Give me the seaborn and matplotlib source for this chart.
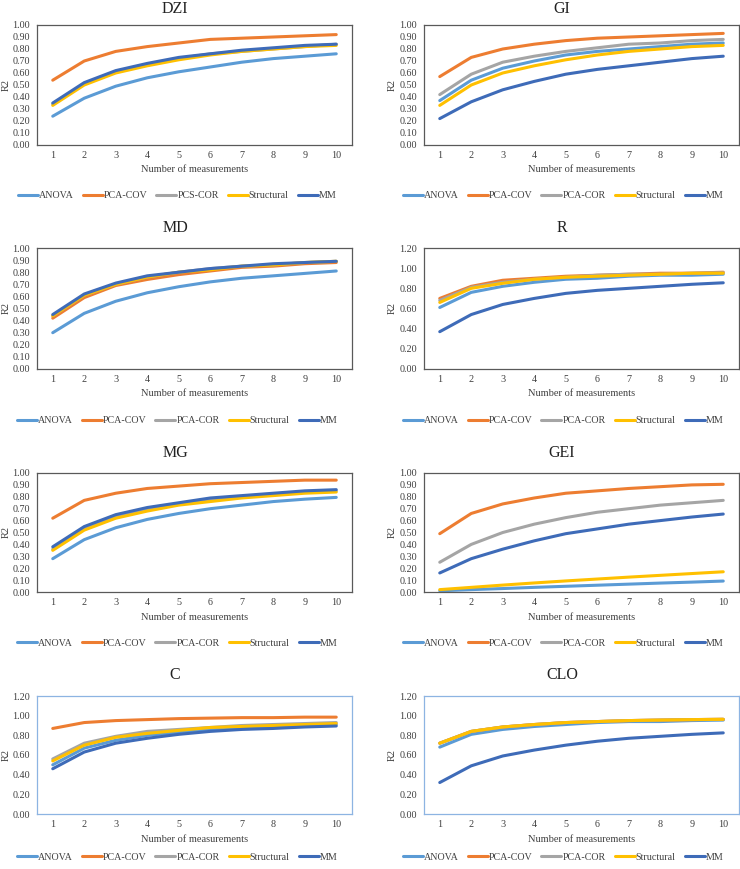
import numpy as np
import pandas as pd
import matplotlib
matplotlib.use("Agg")
import matplotlib.pyplot as plt
from matplotlib.lines import Line2D
import seaborn as sns

sns.set_theme(style="white")
plt.rcParams['font.family'] = ['Liberation Serif', 'DejaVu Serif']

# x axis: number of measurements
measurements = [1, 2, 3, 4, 5, 6, 7, 8, 9, 10]
methods = ["ANOVA", "PCA-COV", "PCA-COR", "Structural", "MM"]
colors = ["#5B9BD5", "#ED7D31", "#A5A5A5", "#FFC000", "#3E6BB8"]

# R2 values (order: ANOVA, PCA-COV, PCA-COR, Structural, MM)
dzi = {
    "ANOVA":      [0.24, 0.39, 0.49, 0.56, 0.61, 0.65, 0.69, 0.72, 0.74, 0.76],
    "PCA-COV":    [0.54, 0.70, 0.78, 0.82, 0.85, 0.88, 0.89, 0.90, 0.91, 0.92],
    "PCA-COR":    [0.34, 0.51, 0.61, 0.67, 0.72, 0.76, 0.78, 0.80, 0.82, 0.84],
    "Structural": [0.33, 0.50, 0.60, 0.66, 0.71, 0.75, 0.78, 0.80, 0.82, 0.83],
    "MM":         [0.35, 0.52, 0.62, 0.68, 0.73, 0.76, 0.79, 0.81, 0.83, 0.84],
}
gi = {
    "ANOVA":      [0.37, 0.54, 0.64, 0.70, 0.75, 0.78, 0.80, 0.82, 0.84, 0.85],
    "PCA-COV":    [0.57, 0.73, 0.80, 0.84, 0.87, 0.89, 0.90, 0.91, 0.92, 0.93],
    "PCA-COR":    [0.42, 0.59, 0.69, 0.74, 0.78, 0.81, 0.84, 0.85, 0.87, 0.88],
    "Structural": [0.33, 0.50, 0.60, 0.66, 0.71, 0.75, 0.78, 0.80, 0.82, 0.83],
    "MM":         [0.22, 0.36, 0.46, 0.53, 0.59, 0.63, 0.66, 0.69, 0.72, 0.74],
}
md = {
    "ANOVA":      [0.30, 0.46, 0.56, 0.63, 0.68, 0.72, 0.75, 0.77, 0.79, 0.81],
    "PCA-COV":    [0.42, 0.59, 0.69, 0.74, 0.78, 0.81, 0.84, 0.85, 0.87, 0.88],
    "PCA-COR":    [0.44, 0.61, 0.70, 0.76, 0.80, 0.83, 0.85, 0.86, 0.88, 0.89],
    "Structural": [0.44, 0.61, 0.70, 0.76, 0.80, 0.82, 0.85, 0.86, 0.88, 0.89],
    "MM":         [0.45, 0.62, 0.71, 0.77, 0.80, 0.83, 0.85, 0.87, 0.88, 0.89],
}
r = {
    "ANOVA":      [0.61, 0.76, 0.82, 0.86, 0.89, 0.90, 0.92, 0.93, 0.93, 0.94],
    "PCA-COV":    [0.70, 0.82, 0.88, 0.90, 0.92, 0.93, 0.94, 0.95, 0.95, 0.96],
    "PCA-COR":    [0.68, 0.81, 0.86, 0.89, 0.91, 0.93, 0.94, 0.94, 0.95, 0.955],
    "Structural": [0.66, 0.80, 0.85, 0.89, 0.91, 0.92, 0.93, 0.94, 0.95, 0.95],
    "MM":         [0.37, 0.54, 0.64, 0.70, 0.75, 0.78, 0.80, 0.82, 0.84, 0.855],
}
mg = {
    "ANOVA":      [0.28, 0.44, 0.54, 0.61, 0.66, 0.70, 0.73, 0.76, 0.78, 0.795],
    "PCA-COV":    [0.62, 0.77, 0.83, 0.87, 0.89, 0.91, 0.92, 0.93, 0.94, 0.94],
    "PCA-COR":    [0.36, 0.53, 0.63, 0.69, 0.74, 0.77, 0.80, 0.82, 0.84, 0.85],
    "Structural": [0.35, 0.52, 0.62, 0.68, 0.73, 0.76, 0.79, 0.81, 0.83, 0.84],
    "MM":         [0.38, 0.55, 0.65, 0.71, 0.75, 0.79, 0.81, 0.83, 0.85, 0.86],
}
gei = {
    "ANOVA":      [0.010, 0.020, 0.029, 0.039, 0.048, 0.057, 0.066, 0.075, 0.083, 0.092],
    "PCA-COV":    [0.49, 0.66, 0.74, 0.79, 0.83, 0.85, 0.87, 0.885, 0.90, 0.905],
    "PCA-COR":    [0.25, 0.40, 0.50, 0.57, 0.625, 0.67, 0.70, 0.73, 0.75, 0.77],
    "Structural": [0.020, 0.039, 0.058, 0.076, 0.093, 0.109, 0.125, 0.140, 0.155, 0.170],
    "MM":         [0.16, 0.28, 0.36, 0.43, 0.49, 0.53, 0.57, 0.60, 0.63, 0.655],
}
c = {
    "ANOVA":      [0.50, 0.67, 0.75, 0.80, 0.83, 0.86, 0.875, 0.89, 0.90, 0.91],
    "PCA-COV":    [0.87, 0.93, 0.95, 0.96, 0.97, 0.975, 0.98, 0.98, 0.985, 0.985],
    "PCA-COR":    [0.56, 0.72, 0.79, 0.84, 0.86, 0.88, 0.90, 0.91, 0.92, 0.93],
    "Structural": [0.54, 0.70, 0.78, 0.82, 0.85, 0.88, 0.89, 0.90, 0.91, 0.92],
    "MM":         [0.46, 0.63, 0.72, 0.77, 0.81, 0.84, 0.86, 0.87, 0.885, 0.895],
}
clo = {
    "ANOVA":      [0.68, 0.81, 0.86, 0.89, 0.91, 0.93, 0.94, 0.94, 0.95, 0.955],
    "PCA-COV":    [0.72, 0.84, 0.885, 0.91, 0.93, 0.94, 0.95, 0.955, 0.96, 0.963],
    "PCA-COR":    [0.72, 0.84, 0.885, 0.91, 0.93, 0.94, 0.95, 0.955, 0.96, 0.963],
    "Structural": [0.72, 0.84, 0.885, 0.91, 0.93, 0.94, 0.95, 0.955, 0.96, 0.963],
    "MM":         [0.32, 0.49, 0.59, 0.65, 0.70, 0.74, 0.77, 0.79, 0.81, 0.825],
}

panels = [
    ("DZI", dzi, 1.0, 0.1, "#595959", "PCS-COR"),
    ("GI", gi, 1.0, 0.1, "#595959", "PCA-COR"),
    ("MD", md, 1.0, 0.1, "#595959", "PCA-COR"),
    ("R", r, 1.2, 0.2, "#595959", "PCA-COR"),
    ("MG", mg, 1.0, 0.1, "#595959", "PCA-COR"),
    ("GEI", gei, 1.0, 0.1, "#595959", "PCA-COR"),
    ("C", c, 1.2, 0.2, "#8DB4E2", "PCA-COR"),
    ("CLO", clo, 1.2, 0.2, "#8DB4E2", "PCA-COR"),
]

W, H = 740, 869
fig = plt.figure(figsize=(W / 100, H / 100), dpi=100)

# pixel layout
col_left = [37, 424]
col_right = [352, 739]
row_top = [25, 248, 473, 696]
row_bot = [145, 369, 592, 814]
title_y = [9, 228, 453, 675]
legend_y = [196, 421, 643, 857]
title_x = [175, 562]
legend_x = [177, 563]
ylab_x = [6, 392]

for i, (name, vals, ymax, ystep, spine_col, cor_label) in enumerate(panels):
    row, col = divmod(i, 2)
    l, rr = col_left[col], col_right[col]
    t, b = row_top[row], row_bot[row]
    ax = fig.add_axes([l / W, 1 - b / H, (rr - l) / W, (b - t) / H])

    df = pd.DataFrame([
        {"n": n, "R2": v, "method": m}
        for m in methods for n, v in zip(measurements, vals[m])
    ])
    sns.lineplot(data=df, x="n", y="R2", hue="method", hue_order=methods,
                 palette=colors, linewidth=2.2, ax=ax, legend=False)

    ax.set_xlim(0.5, 10.5)
    ax.set_ylim(0, ymax)
    ax.set_xticks(measurements)
    ax.set_yticks(np.round(np.arange(0, ymax + 1e-9, ystep), 2))
    ax.yaxis.set_major_formatter(matplotlib.ticker.FormatStrFormatter("%.2f"))
    ax.tick_params(axis="both", length=0, labelsize=7.3, colors="#404040")
    ax.tick_params(axis="y", pad=5)
    ax.tick_params(axis="x", pad=4)
    ax.set_xlabel("")
    ax.set_ylabel("")
    for s in ax.spines.values():
        s.set_visible(True)
        s.set_color(spine_col)
        s.set_linewidth(0.9)

    fig.text(title_x[col] / W, 1 - title_y[row] / H, name, ha="center",
             va="center", fontsize=11.5, color="#222222")
    fig.text(ylab_x[col] / W, 1 - ((t + b) / 2) / H, "R2", rotation=90,
             ha="center", va="center", fontsize=7.5, color="#404040")
    fig.text(((l + rr) / 2) / W, 1 - (b + 25) / H, "Number of measurements",
             ha="center", va="center", fontsize=7.5, color="#404040")

    labels = ["ANOVA", "PCA-COV", cor_label, "Structural", "MM"]
    handles = [Line2D([0], [0], color=cc, lw=2.2) for cc in colors]
    ax.legend(handles, labels, loc="center",
              bbox_to_anchor=(legend_x[col] / W, 1 - legend_y[row] / H),
              bbox_transform=fig.transFigure, ncol=5, frameon=False,
              fontsize=7.2, handlelength=2.0, handletextpad=0.1,
              columnspacing=0.9, labelcolor="#404040")

fig.savefig("out.png", dpi=100)
